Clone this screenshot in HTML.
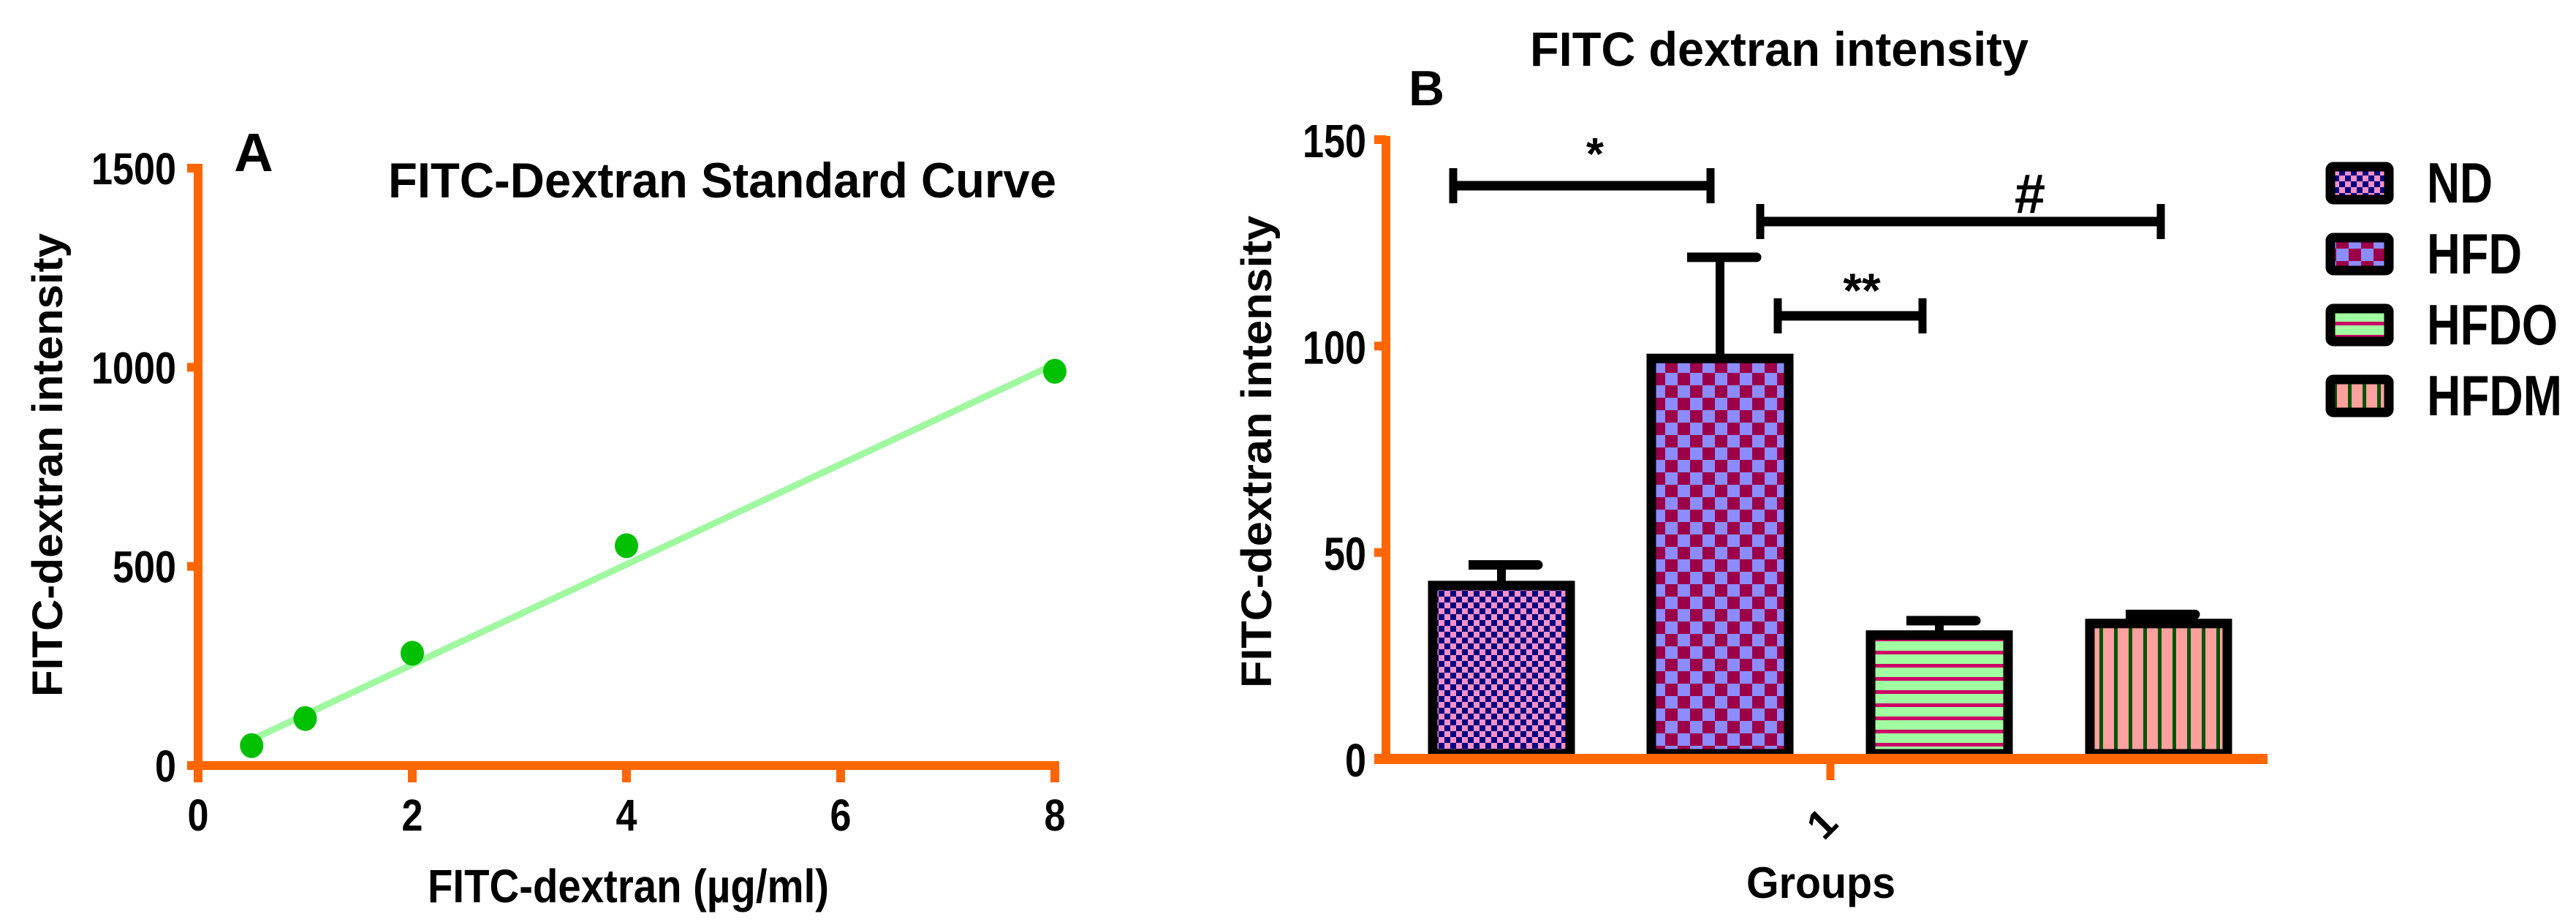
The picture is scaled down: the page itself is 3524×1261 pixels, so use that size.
<!DOCTYPE html>
<html><head><meta charset="utf-8"><style>
html,body{margin:0;padding:0;background:#fff;}
svg{display:block;}
text{font-family:"Liberation Sans",Arial,sans-serif;font-weight:bold;fill:#000;}
</style></head><body>
<svg id="chart" width="3524" height="1261" viewBox="0 0 3524 1261" xmlns="http://www.w3.org/2000/svg">
<defs>
<pattern id="pND" width="16" height="16" patternUnits="userSpaceOnUse"><rect width="16" height="16" fill="#000080"/><rect width="8" height="8" fill="#f890c8"/><rect x="8" y="8" width="8" height="8" fill="#f890c8"/></pattern>
<pattern id="pHFD" width="34" height="34" patternUnits="userSpaceOnUse"><rect width="34" height="34" fill="#9c0048"/><rect width="17" height="17" fill="#8c8cff"/><rect x="17" y="17" width="17" height="17" fill="#8c8cff"/></pattern>
<pattern id="pHFDO" width="18" height="18" patternUnits="userSpaceOnUse"><rect width="18" height="18" fill="#a0ffa0"/><rect y="8" width="18" height="5" fill="#cc0066"/></pattern>
<pattern id="pHFDM" width="20" height="20" patternUnits="userSpaceOnUse"><rect width="20" height="20" fill="#ffa0a0"/><rect x="12" width="5" height="20" fill="#005500"/></pattern>
</defs>
<g id="panelA"></g>
<g id="panelB"></g>
</svg>
<script>
// Panel A data
const concentrations = [0.5, 1, 2, 4, 8];
const intensities = [50, 118, 282, 552, 990];
const fitLine = [65, 1008]; // fitted y at x=0.5 and x=8
const aXTicks = [0, 2, 4, 6, 8];
const aYTicks = [0, 500, 1000, 1500];
// Panel B data
const groups = ["ND", "HFD", "HFDO", "HFDM"];
const means = [42, 97, 30, 32.8];
const errors = [5, 24.5, 3.5, 2.2];
const bYTicks = [0, 50, 100, 150];
const sigLabels = ["*", "#", "**"];

const NS = "http://www.w3.org/2000/svg";
function mk(tag, attrs, parent, txt) {
  const e = document.createElementNS(NS, tag);
  for (const k in attrs) e.setAttribute(k, attrs[k]);
  if (txt !== undefined) e.textContent = txt;
  parent.appendChild(e);
  return e;
}
const OR = "#ff6600";

// ---- Panel A ----
const A = document.getElementById("panelA");
const ax = v => 271 + v * 146.5;
const ay = v => 1047 - v * 0.5447;
let t;
t = mk("text", {x: 347, y: 234, "font-size": 74, "text-anchor": "middle"}, A, "A");


t = mk("text", {x: 531, y: 270, "font-size": 68, textLength: 914, lengthAdjust: "spacingAndGlyphs"}, A, "FITC-Dextran Standard Curve");


t = mk("text", {x: 0, y: 0, "font-size": 58, "text-anchor": "middle", transform: "translate(85,636) rotate(-90)", textLength: 634, lengthAdjust: "spacingAndGlyphs"}, A, "FITC-dextran intensity");


t = mk("text", {x: 585, y: 1234, "font-size": 64, textLength: 549, lengthAdjust: "spacingAndGlyphs"}, A, "FITC-dextran (µg/ml)");


aYTicks.forEach(v => {
  let l = mk("line", {x1: 256, x2: 271, y1: ay(v), y2: ay(v), stroke: OR, "stroke-width": 12}, A);
  
  
  const s = String(v);
  let tx = mk("text", {x: 241, y: ay(v) + 22, "font-size": 61, "text-anchor": "end", textLength: s.length * 29, lengthAdjust: "spacingAndGlyphs"}, A, s);
  
  
});
aXTicks.forEach(v => {
  let l = mk("line", {x1: ax(v), x2: ax(v), y1: 1047, y2: 1070, stroke: OR, "stroke-width": 12}, A);
  
  
  let tx = mk("text", {x: ax(v), y: 1136, "font-size": 61, "text-anchor": "middle", textLength: 29, lengthAdjust: "spacingAndGlyphs"}, A, String(v));
  
  
});
let yA = mk("line", {x1: 271, x2: 271, y1: ay(1500) - 6, y2: 1053, stroke: OR, "stroke-width": 12}, A);


let xA = mk("line", {x1: 265, x2: ax(8) + 6, y1: 1047, y2: 1047, stroke: OR, "stroke-width": 12}, A);


let fl = mk("line", {x1: ax(concentrations[0]), y1: ay(fitLine[0]), x2: ax(concentrations[concentrations.length - 1]), y2: ay(fitLine[1]), stroke: "#a0f8a0", "stroke-width": 9}, A);


concentrations.forEach((c, i) => {
  let p = mk("ellipse", {cx: ax(c), cy: ay(intensities[i]), rx: 16, ry: 17, fill: "#00c000"}, A);
  
  
});

// ---- Panel B ----
const B = document.getElementById("panelB");
const by = v => 1038 - v * 5.647;
const barX = [1954, 2253, 2553, 2853];
const barW = 200;
const pats = ["pND", "pHFD", "pHFDO", "pHFDM"];
t = mk("text", {x: 2093, y: 90, "font-size": 66, textLength: 682, lengthAdjust: "spacingAndGlyphs"}, B, "FITC dextran intensity");


t = mk("text", {x: 1927, y: 144, "font-size": 68, textLength: 49, lengthAdjust: "spacingAndGlyphs"}, B, "B");


t = mk("text", {x: 0, y: 0, "font-size": 58, "text-anchor": "middle", transform: "translate(1739,618) rotate(-90)", textLength: 646, lengthAdjust: "spacingAndGlyphs"}, B, "FITC-dextran intensity");


t = mk("text", {x: 2491, y: 1228, "font-size": 60, "text-anchor": "middle", textLength: 204, lengthAdjust: "spacingAndGlyphs"}, B, "Groups");


t = mk("text", {x: 0, y: 0, "font-size": 56, "text-anchor": "middle", transform: "translate(2506,1140) rotate(-45)"}, B, "1");


bYTicks.forEach(v => {
  let l = mk("line", {x1: 1880, x2: 1896, y1: by(v), y2: by(v), stroke: OR, "stroke-width": 12}, B);
  
  
  const s = String(v);
  let tx = mk("text", {x: 1869, y: by(v) + 24, "font-size": 64, "text-anchor": "end", textLength: s.length * 29, lengthAdjust: "spacingAndGlyphs"}, B, s);
  
  
});
const legendW = [90, 130, 179, 185];
groups.forEach((g, i) => {
  const cx = barX[i] + barW / 2;
  let e = mk("line", {x1: cx, x2: cx, y1: by(means[i]), y2: by(means[i] + errors[i]), stroke: "#000", "stroke-width": 12}, B);
  
  
  let c = mk("line", {x1: cx, x2: cx + 50, y1: by(means[i] + errors[i]), y2: by(means[i] + errors[i]), stroke: "#000", "stroke-width": 13, "stroke-linecap": "round"}, B);
  
  
  let c2 = mk("line", {x1: cx - 45, x2: cx, y1: by(means[i] + errors[i]), y2: by(means[i] + errors[i]), stroke: "#000", "stroke-width": 13}, B);
  
  
  let r = mk("rect", {x: barX[i] + 6, y: by(means[i]), width: barW - 12, height: 1031 - by(means[i]), fill: "url(#" + pats[i] + ")", stroke: "#000", "stroke-width": 13}, B);
  
  
  const ly = [250, 347, 444, 541][i];
  let lb = mk("rect", {x: 3188, y: ly - 22, width: 80, height: 45, fill: "url(#" + pats[i] + ")", stroke: "#000", "stroke-width": 13, rx: 4}, B);
  
  
  let lt = mk("text", {x: 3320, y: ly + 27, "font-size": 78, "font-weight": "normal", textLength: legendW[i], lengthAdjust: "spacingAndGlyphs"}, B, g);
  
  
});
let yB = mk("line", {x1: 1896, x2: 1896, y1: 186, y2: 1044, stroke: OR, "stroke-width": 12}, B);


let xB = mk("line", {x1: 1880, x2: 3102, y1: 1038, y2: 1038, stroke: OR, "stroke-width": 14}, B);


let xt = mk("line", {x1: 2504, x2: 2504, y1: 1038, y2: 1067, stroke: OR, "stroke-width": 11}, B);


// significance brackets
const sig = [[1988, 2340, 254, 2182, 232, 62], [2408, 2956, 303, 2777, 291, 76], [2432, 2630, 432, 2547, 420, 66]];
sig.forEach((s, i) => {
  let g = mk("g", {}, B);
  
  
  mk("line", {x1: s[0], x2: s[1], y1: s[2], y2: s[2], stroke: "#000", "stroke-width": 13}, g);
  mk("line", {x1: s[0], x2: s[0], y1: s[2] - 24, y2: s[2] + 24, stroke: "#000", "stroke-width": 11}, g);
  mk("line", {x1: s[1], x2: s[1], y1: s[2] - 24, y2: s[2] + 24, stroke: "#000", "stroke-width": 11}, g);
  let tx = mk("text", {x: s[3], y: s[4], "font-size": s[5], "text-anchor": "middle"}, g, sigLabels[i]);
  
  
});
</script>
</body></html>
